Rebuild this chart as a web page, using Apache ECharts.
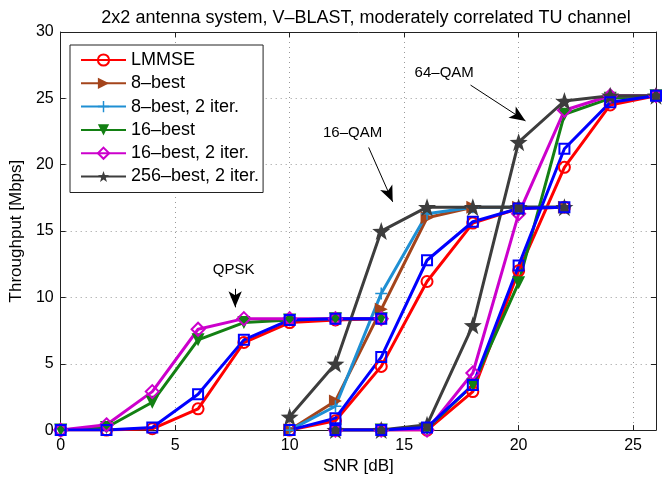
<!DOCTYPE html>
<html>
<head>
<meta charset="utf-8">
<script src="https://cdn.jsdelivr.net/npm/echarts@6/dist/echarts.min.js"></script>
<style>html,body{margin:0;padding:0;background:#fff}#c{width:662px;height:480px}</style>
</head>
<body>
<div id="c"></div>
<script>
// ---- data ----
var snrQPSK = [0, 2, 4, 6, 8, 10, 12, 14];
var snr16QAM = [10, 12, 14, 16, 18, 20, 22];
var snr64QAM = [12, 14, 16, 18, 20, 22, 24, 26];

var lmmseQPSK   = [0, 0, 0.1, 1.6, 6.6, 8.1, 8.3, 8.4];
var best16QPSK  = [0, 0.2, 2.1, 6.8, 8.1, 8.3, 8.4, 8.4];
var best16itQPSK= [0, 0.4, 2.9, 7.6, 8.4, 8.4, 8.4, 8.4];
var blueQPSK    = [0, 0, 0.2, 2.7, 6.8, 8.3, 8.4, 8.4];

var lmmse16     = [0, 0.7, 4.8, 11.2, 15.6, 16.7, 16.8];
var best8_16    = [0, 2.2, 9.1, 16.0, 16.8, 16.8, 16.8];
var best8it_16  = [0, 1.8, 10.3, 16.3, 16.8, 16.8, 16.8];
var best256_16  = [1.0, 5.0, 15.0, 16.8, 16.8, 16.8, 16.8];
var blue16      = [0, 0.9, 5.5, 12.8, 15.7, 16.7, 16.8];

var lmmse64     = [0, 0, 0, 2.9, 12.0, 19.8, 24.5, 25.2];
var best16_64   = [0, 0, 0.1, 3.4, 11.1, 23.8, 25.0, 25.2];
var best16it_64 = [0, 0, 0, 4.3, 16.3, 24.1, 25.2, 25.2];
var best256_64  = [0, 0, 0.4, 7.9, 21.7, 24.8, 25.2, 25.2];
var blue64      = [0, 0, 0.2, 3.4, 12.4, 21.2, 24.7, 25.2];

var legendNames = ['LMMSE', '8\u2013best', '8\u2013best, 2 iter.', '16\u2013best', '16\u2013best, 2 iter.', '256\u2013best, 2 iter.'];
var blueName = 'LMMSE, 2 iter.';

var annoTexts = ['QPSK', '16\u2013QAM', '64\u2013QAM'];
var annoTextPos = [[7.55, 12.1], [12.75, 22.4], [16.75, 26.9]];
var annoArrows = [[[7.62, 10.65], [7.62, 9.25]], [[13.45, 21.3], [14.5, 17.2]], [[17.9, 26.0], [20.3, 23.3]]];

// ---- styles ----
var FONT = 'Liberation Sans, Arial, sans-serif';
var starPath = 'path://M0,-10 L2.35,-3.24 L9.51,-3.09 L3.8,1.24 L5.88,8.09 L0,4 L-5.88,8.09 L-3.8,1.24 L-9.51,-3.09 L-2.35,-3.24 Z';
var plusPath = 'path://M-1.3,-10 L1.3,-10 L1.3,-1.3 L10,-1.3 L10,1.3 L1.3,1.3 L1.3,10 L-1.3,10 L-1.3,1.3 L-10,1.3 L-10,-1.3 L-1.3,-1.3 Z';
var styles = {};
styles[legendNames[0]] = {color: '#ff0000', symbol: 'circle', size: 11, hollow: true};
styles[legendNames[1]] = {color: '#a4441b', symbol: 'triangle', size: 13, rotate: -90, hollow: false};
styles[legendNames[2]] = {color: '#1f8fd3', symbol: plusPath, size: 12, hollow: false};
styles[legendNames[3]] = {color: '#138013', symbol: 'triangle', size: 13, rotate: 180, hollow: false};
styles[legendNames[4]] = {color: '#cc00cc', symbol: 'diamond', size: 13, hollow: true};
styles[legendNames[5]] = {color: '#3d3d3d', symbol: starPath, size: 18, hollow: false};
styles[blueName] = {color: '#0000ff', symbol: 'rect', size: 10, hollow: true};

function mk(name, xs, ys) {
  var s = styles[name];
  return {
    type: 'line', name: name,
    data: xs.map(function (x, i) { return [x, ys[i]]; }),
    symbol: s.symbol, symbolSize: s.size, symbolRotate: s.rotate || 0,
    showAllSymbol: true,
    lineStyle: {color: s.color, width: 3},
    itemStyle: s.hollow ? {color: 'rgba(255,255,255,0)', borderColor: s.color, borderWidth: 2, opacity: 1}
                        : {color: s.color, borderColor: s.color, borderWidth: 0},
    emphasis: {disabled: true},
    animation: false, z: 3
  };
}

var series = [
  mk(legendNames[0], snrQPSK, lmmseQPSK),
  mk(legendNames[0], snr16QAM, lmmse16),
  mk(legendNames[0], snr64QAM, lmmse64),
  mk(legendNames[1], snr16QAM, best8_16),
  mk(legendNames[2], snr16QAM, best8it_16),
  mk(legendNames[3], snrQPSK, best16QPSK),
  mk(legendNames[3], snr64QAM, best16_64),
  mk(legendNames[4], snrQPSK, best16itQPSK),
  mk(legendNames[4], snr64QAM, best16it_64),
  mk(legendNames[5], snr16QAM, best256_16),
  mk(legendNames[5], snr64QAM, best256_64),
  mk(blueName, snrQPSK, blueQPSK),
  mk(blueName, snr16QAM, blue16),
  mk(blueName, snr64QAM, blue64)
];

series.push({
  type: 'line', name: '__anno', data: [], silent: true, animation: false,
  markLine: {
    silent: true, animation: false,
    symbol: ['none', 'arrow'], symbolSize: [10, 16],
    label: {show: false},
    lineStyle: {color: '#000', width: 1, type: 'solid'},
    emphasis: {disabled: true},
    data: annoArrows.map(function (a) { return [{coord: a[0]}, {coord: a[1]}]; })
  },
  markPoint: {
    silent: true, animation: false,
    symbol: 'rect', symbolSize: 1,
    itemStyle: {color: 'rgba(0,0,0,0)'},
    data: annoTexts.map(function (t, i) {
      return {coord: annoTextPos[i], value: t,
        label: {show: true, position: 'inside', formatter: t, color: '#000', fontSize: 15, fontFamily: FONT}};
    })
  }
});

var chart = echarts.init(document.getElementById('c'), null, {renderer: 'canvas'});
var axisCommon = {
  axisLine: {show: true, onZero: false, lineStyle: {color: '#222', width: 1}},
  axisTick: {show: true, inside: true, length: 5, lineStyle: {color: '#222'}},
  axisLabel: {color: '#000', fontSize: 16, fontFamily: FONT}
};
chart.setOption({
  animation: false,
  backgroundColor: '#fff',
  title: {
    text: '2x2 antenna system, V\u2013BLAST, moderately correlated TU channel',
    left: 361, top: 4, textAlign: 'center',
    textStyle: {fontSize: 18, fontWeight: 'normal', color: '#000', fontFamily: FONT}
  },
  grid: {left: 59, right: 6, top: 32, bottom: 48, show: false},
  legend: {
    data: legendNames,
    orient: 'vertical', left: 70, top: 45,
    itemWidth: 45, itemHeight: 14, itemGap: 3.3,
    padding: [5, 4, 6, 10],
    backgroundColor: '#fff', borderColor: '#222', borderWidth: 1,
    textStyle: {fontSize: 18, fontFamily: FONT, color: '#000', lineHeight: 20},
    selectedMode: false
  },
  xAxis: [
    Object.assign({}, axisCommon, {
      type: 'value', min: 0, max: 26, interval: 5, position: 'bottom',
      name: 'SNR [dB]', nameLocation: 'middle', nameGap: 25,
      nameTextStyle: {fontSize: 17, color: '#000', fontFamily: FONT},
      axisLabel: {color: '#000', fontSize: 16, fontFamily: FONT, margin: 7,
        formatter: function (v) { return v % 5 === 0 ? String(v) : ''; }},
      splitLine: {show: true, lineStyle: {color: '#999', type: [1, 4], width: 1}}
    }),
    Object.assign({}, axisCommon, {
      type: 'value', min: 0, max: 26, interval: 5, position: 'top',
      axisLabel: {show: false}, splitLine: {show: false}
    })
  ],
  yAxis: [
    Object.assign({}, axisCommon, {
      type: 'value', min: 0, max: 30, interval: 5, position: 'left',
      name: 'Throughput [Mbps]', nameLocation: 'middle', nameGap: 28,
      nameTextStyle: {fontSize: 17, color: '#000', fontFamily: FONT},
      axisLabel: {color: '#000', fontSize: 16, fontFamily: FONT, margin: 7},
      splitLine: {show: true, lineStyle: {color: '#999', type: [1, 4], width: 1}}
    }),
    Object.assign({}, axisCommon, {
      type: 'value', min: 0, max: 30, interval: 5, position: 'right',
      axisLabel: {show: false}, splitLine: {show: false}
    })
  ],
  series: series
});
</script>
</body>
</html>
